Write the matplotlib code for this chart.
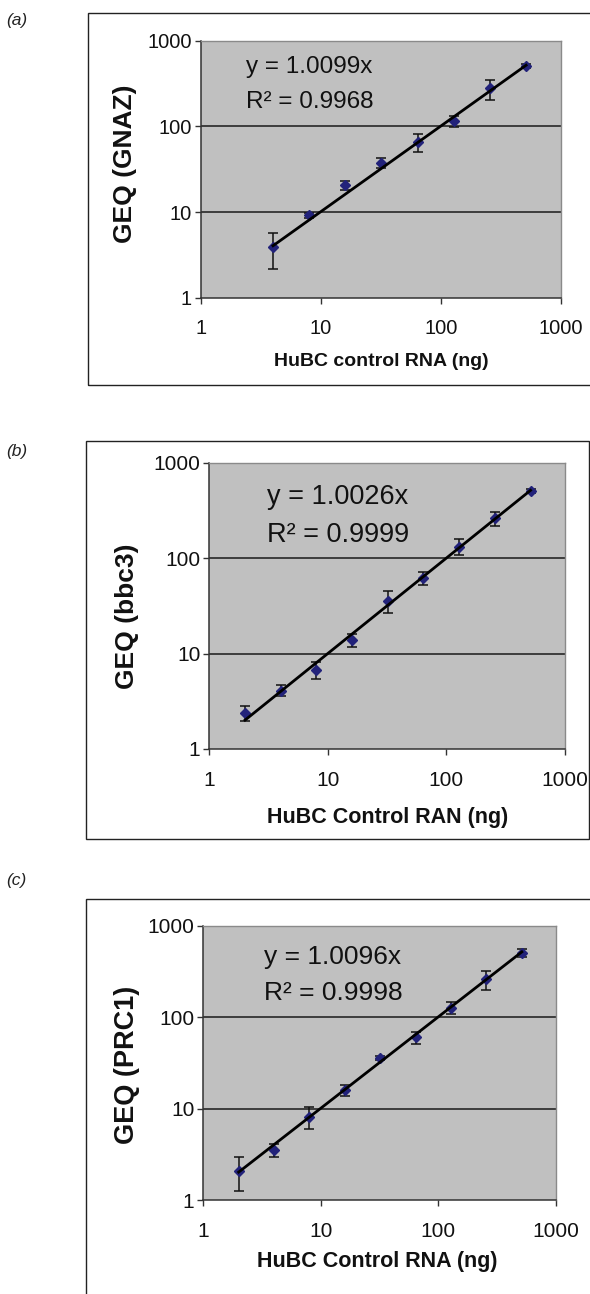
import matplotlib
matplotlib.use("Agg")
import matplotlib.pyplot as plt
from matplotlib.patches import Rectangle
import numpy as np

plt.rcParams['font.family'] = ['Liberation Sans', 'DejaVu Sans']

# ---------------- data ----------------
x_a = [4, 8, 16, 32, 64, 128, 256, 512]
y_a = [3.9, 9.2, 20.5, 37.6, 65.6, 115, 277, 509]
e_a = [1.75, 0.6, 2.5, 5, 15, 18, 75, 30]
slope_a = 1.0099
eq_a = ["y = 1.0099x", "R\u00b2 = 0.9968"]

x_b = [2, 4, 8, 16, 32, 64, 128, 256, 512]
y_b = [2.4, 4.1, 6.8, 13.9, 35.8, 61.9, 132, 261, 505]
e_b = [0.45, 0.55, 1.35, 2.3, 9, 9, 25, 45, 25]
slope_b = 1.0026
eq_b = ["y = 1.0026x", "R\u00b2 = 0.9999"]

x_c = [2, 4, 8, 16, 32, 64, 128, 256, 512]
y_c = [2.09, 3.52, 8.15, 16.0, 35.7, 60.1, 127, 261, 507]
e_c = [0.85, 0.6, 2.2, 2.2, 2, 9, 20, 62, 55]
slope_c = 1.0096
eq_c = ["y = 1.0096x", "R\u00b2 = 0.9998"]

ylabels = ["GEQ (GNAZ)", "GEQ (bbc3)", "GEQ (PRC1)"]
xlabels = ["HuBC control RNA (ng)", "HuBC Control RAN (ng)", "HuBC Control RNA (ng)"]
panel_tags = ["(a)", "(b)", "(c)"]
ticks = [1, 10, 100, 1000]
tick_labels = ["1", "10", "100", "1000"]

W, H = 590, 1294
fig = plt.figure(figsize=(W / 100, H / 100), dpi=100)

def fx(px):
    return px / W

def fy(py):
    return 1 - py / H

# panel layout (pixel coords)
panels = [
    dict(x=x_a, y=y_a, e=e_a, s=slope_a, eq=eq_a,
         ax=(200.7, 40.7, 561, 297.7), box=(88, 13, 600, 385),
         tag_y=21, eq_x=246, eq_y=(67, 102), yl=(125, 164), xl=(381, 362),
         tfs=14.5, eqfs=17.5, ylfs=19, xlfs=14),
    dict(x=x_b, y=y_b, e=e_b, s=slope_b, eq=eq_b,
         ax=(209.3, 462.7, 565, 749), box=(86, 441, 589, 839),
         tag_y=452, eq_x=267, eq_y=(497, 535), yl=(127, 616), xl=(388, 818),
         tfs=15, eqfs=19.5, ylfs=19, xlfs=15.5),
    dict(x=x_c, y=y_c, e=e_c, s=slope_c, eq=eq_c,
         ax=(203.3, 925.7, 556, 1200), box=(86, 899, 600, 1310),
         tag_y=880, eq_x=264, eq_y=(957, 993), yl=(127, 1065), xl=(377, 1262),
         tfs=15, eqfs=19, ylfs=19.5, xlfs=15.5),
]

for i, p in enumerate(panels):
    l, t, r, b = p['ax']
    # outer box
    bl, bt, br, bb = p['box']
    fig.patches.append(Rectangle((fx(bl), fy(bb)), fx(br - bl), (bb - bt) / H,
                                 transform=fig.transFigure, fill=False,
                                 edgecolor='#222222', linewidth=1.0, zorder=0))
    fig.text(fx(6), fy(p['tag_y']), panel_tags[i], fontsize=12.5, style='italic',
             va='center', ha='left', color='#222222')

    ax = fig.add_axes([fx(l), fy(b), fx(r - l), (b - t) / H])
    ax.set_facecolor('#c0c0c0')
    ax.set_xscale('log')
    ax.set_yscale('log')
    ax.set_xlim(1, 1000)
    ax.set_ylim(1, 1000)
    ax.set_xticks(ticks)
    ax.set_xticklabels(tick_labels)
    ax.set_yticks(ticks)
    ax.set_yticklabels(tick_labels)
    ax.minorticks_off()
    ax.tick_params(direction='out', length=4.5, width=1, colors='#333333',
                   labelsize=p['tfs'], labelcolor='#111111')
    ax.tick_params(axis='x', pad=11)
    ax.tick_params(axis='y', pad=2)
    for yv in [10, 100]:
        ax.axhline(yv, color='#1a1a1a', linewidth=1.1, zorder=1)
    for sp in ['left', 'bottom']:
        ax.spines[sp].set_color('#333333')
        ax.spines[sp].set_linewidth(1.1)
    for sp in ['top', 'right']:
        ax.spines[sp].set_color('#8a8a8a')
        ax.spines[sp].set_linewidth(1.0)

    xs = np.array(p['x'], dtype=float)
    ax.errorbar(p['x'], p['y'], yerr=p['e'], fmt='none', ecolor='#111111',
                elinewidth=1.1, capsize=3.5, capthick=1.1, zorder=3)
    ax.plot(p['x'], p['y'], linestyle='none', marker='D', markersize=5.5,
            markerfacecolor='#22227a', markeredgecolor='#22227a', zorder=4)
    xe = np.array([xs[0], xs[-1]])
    ax.plot(xe, p['s'] * xe, color='black', linewidth=2.0, zorder=5)

    fig.text(fx(p['eq_x']), fy(p['eq_y'][0]), p['eq'][0], fontsize=p['eqfs'],
             va='center', ha='left', color='#111111')
    fig.text(fx(p['eq_x']), fy(p['eq_y'][1]), p['eq'][1], fontsize=p['eqfs'],
             va='center', ha='left', color='#111111')

    fig.text(fx(p['yl'][0]), fy(p['yl'][1]), ylabels[i], rotation=90,
             fontsize=p['ylfs'], fontweight='bold', va='center', ha='center',
             color='#111111')
    fig.text(fx(p['xl'][0]), fy(p['xl'][1]), xlabels[i], fontsize=p['xlfs'],
             fontweight='bold', va='center', ha='center', color='#111111')

fig.savefig('out.png', dpi=100)
